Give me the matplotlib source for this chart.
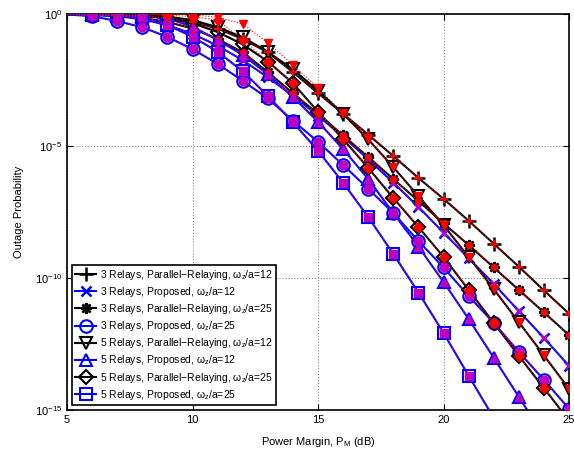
import numpy as np
import matplotlib.pyplot as plt

plt.rcParams['font.family'] = ['Liberation Sans', 'DejaVu Sans']
plt.rcParams['mathtext.fontset'] = 'custom'
plt.rcParams['mathtext.rm'] = 'Liberation Sans'
plt.rcParams['mathtext.it'] = 'Liberation Sans'

# power margin (dB)
pm = [5, 6, 7, 8, 9, 10, 11, 12, 13, 14, 15, 16, 17, 18, 19, 20, 21, 22, 23, 24, 25]

# log10 of outage probability
pr3_w12 = [-0.003, -0.01, -0.03, -0.07, -0.15, -0.3, -0.55, -0.95, -1.45, -2.2, -3.0,
           -3.78, -4.57, -5.38, -6.21, -7.0, -7.83, -8.7, -9.57, -10.47, -11.35]
prop3_w12 = [-0.01, -0.03, -0.08, -0.2, -0.42, -0.75, -1.2, -1.75, -2.4, -3.1, -3.85,
             -4.65, -5.5, -6.39, -7.31, -8.28, -9.25, -10.22, -11.25, -12.27, -13.33]
pr3_w25 = [-0.01, -0.03, -0.07, -0.15, -0.3, -0.55, -0.95, -1.45, -2.2, -3.0, -3.78,
           -4.6, -5.42, -6.25, -7.08, -7.93, -8.75, -9.6, -10.45, -11.3, -12.16]
prop3_w25 = [-0.02, -0.08, -0.27, -0.5, -0.87, -1.33, -1.89, -2.53, -3.2, -4.04, -4.84,
             -5.72, -6.62, -7.54, -8.6, -9.6, -10.68, -11.7, -12.8, -13.86, -14.95]
pr5_w12 = [-0.002, -0.005, -0.015, -0.04, -0.1, -0.23, -0.5, -0.88, -1.43, -2.1, -2.9,
           -3.78, -4.75, -5.8, -6.9, -8.0, -9.2, -10.42, -11.67, -12.93, -14.2]
prop5_w12 = [-0.003, -0.01, -0.04, -0.08, -0.16, -0.48, -0.98, -1.55, -2.28, -3.14, -4.08,
             -5.12, -6.25, -7.54, -8.81, -10.15, -11.55, -13.02, -14.5, -16.0, -17.5]
pr5_w25 = [-0.002, -0.007, -0.02, -0.06, -0.16, -0.35, -0.68, -1.15, -1.8, -2.62, -3.7,
           -4.74, -5.83, -6.97, -8.07, -9.2, -10.45, -11.7, -12.95, -14.17, -15.4]
prop5_w25 = [-0.005, -0.02, -0.06, -0.12, -0.42, -0.86, -1.43, -2.17, -3.1, -4.1, -5.18,
             -6.39, -7.69, -9.09, -10.55, -12.08, -13.7, -15.3, -16.9, -18.5, -20.1]

# simulated points that sit off the analytical curves (5 relays, parallel relaying)
sim_pr5_w12 = [-0.001, -0.002, -0.004, -0.008, -0.015, -0.03, -0.12, -0.38, -1.09, -1.93, -2.8,
               -3.76, -4.75, -5.8, -6.9, -8.0, -9.2, -10.42, -11.67, -12.93, -14.2]
sim_pr5_w25 = [-0.001, -0.003, -0.008, -0.02, -0.05, -0.1, -0.23, -0.98, -1.81, -2.62, -3.7,
               -4.74, -5.83, -6.97, -8.07, -9.2, -10.45, -11.7, -12.95, -14.17, -15.4]

labels = [r'3 Relays, Parallel$-$Relaying, $\omega_z$/a=12',
          r'3 Relays, Proposed, $\omega_z$/a=12',
          r'3 Relays, Parallel$-$Relaying, $\omega_z$/a=25',
          r'3 Relays, Proposed, $\omega_z$/a=25',
          r'5 Relays, Parallel$-$Relaying, $\omega_z$/a=12',
          r'5 Relays, Proposed, $\omega_z$/a=12',
          r'5 Relays, Parallel$-$Relaying, $\omega_z$/a=25',
          r'5 Relays, Proposed, $\omega_z$/a=25']

star = (8, 2, 0)
series = [(pr3_w12, pr3_w12, 'k', 'r', '+'),
          (prop3_w12, prop3_w12, 'b', 'm', 'x'),
          (pr3_w25, pr3_w25, 'k', 'r', star),
          (prop3_w25, prop3_w25, 'b', 'm', 'o'),
          (pr5_w12, sim_pr5_w12, 'k', 'r', 'v'),
          (prop5_w12, prop5_w12, 'b', 'm', '^'),
          (pr5_w25, sim_pr5_w25, 'k', 'r', 'D'),
          (prop5_w25, prop5_w25, 'b', 'm', 's')]

fig = plt.figure(figsize=(5.74, 4.51), dpi=100)
ax = fig.add_axes([67 / 574, 1 - 410 / 451, 502 / 574, 396 / 451])

x = np.array(pm)
every = slice(1, None)
for (ana, sim, c, sc, mk), lab in zip(series, labels):
    if mk in ('+', 'x') or mk == star:
        ms = {'+': 10, 'x': 7}.get(mk, 8) if isinstance(mk, str) else 8
        ax.plot(x, 10.0 ** np.array(ana), color=c, lw=1.5, marker=mk, ms=ms, mew=1.8,
                markevery=every, label=lab, zorder=2)
        ax.plot(x, 10.0 ** np.array(sim), color=sc, lw=0.8, ls=':', marker=mk, ms=ms * 0.6,
                mew=1.5, markevery=every, zorder=3)
    else:
        ms = 7 if mk == 'D' else 9
        ax.plot(x, 10.0 ** np.array(ana), color=c, lw=1.5, marker=mk, ms=ms, mew=1.5,
                mfc='none', mec=c, markevery=every, label=lab, zorder=2)
        ax.plot(x, 10.0 ** np.array(sim), color=sc, lw=0.8, ls=':', marker=mk, ms=ms * 0.7,
                mfc=sc, mec=sc, markevery=every, zorder=3)

ax.set_yscale('log')
ax.set_xlim(5, 25)
ax.set_ylim(1e-15, 1)
ax.set_xticks([5, 10, 15, 20, 25])
ax.set_yticks([1e-15, 1e-10, 1e-5, 1e0])
ax.minorticks_off()
ax.tick_params(direction='in', top=True, right=True, labelsize=8, length=4)
ax.grid(True, ls=':', color='0.55', lw=0.8)
for s in ax.spines.values():
    s.set_linewidth(1.2)
ax.set_xlabel(r'Power Margin, P$_\mathrm{M}$ (dB)', fontsize=8, labelpad=7)
ax.set_ylabel('Outage Probability', fontsize=8, labelpad=8)

leg = ax.legend(loc='lower left', fontsize=7.5, frameon=True, fancybox=False,
                edgecolor='k', framealpha=1, handlelength=2, borderaxespad=0.5,
                labelspacing=0.3, handletextpad=0.4, borderpad=0.3)
leg.get_frame().set_linewidth(1.2)

fig.savefig('out.png', dpi=100)
